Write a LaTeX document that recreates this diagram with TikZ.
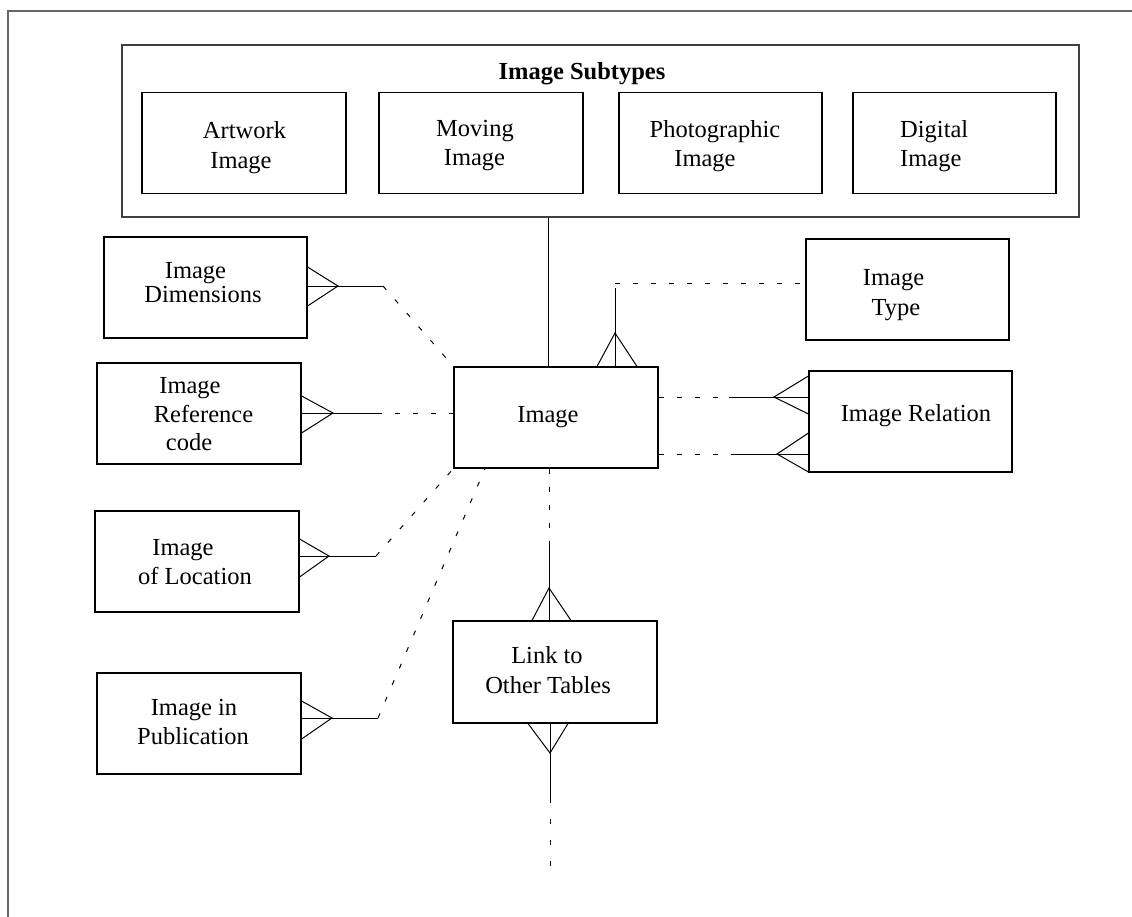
\documentclass[tikz,border=0pt]{standalone}
\usepackage{fontspec}
\setmainfont{Liberation Serif}
\begin{document}
\begin{tikzpicture}[x=1pt,y=-1pt,
  ent/.style={draw=black, line width=1.1pt, inner sep=0pt, minimum width=203pt, minimum height=101pt},
  txt/.style={inner sep=0pt, anchor=base, font=\fontsize{24.5}{29}\selectfont},
  ln/.style={line width=1pt},
  dsh/.style={line width=1pt, dash pattern=on 5pt off 13pt},
  outerframe/.style={draw=black!60, line width=1.3pt}]
\useasboundingbox (0,0) rectangle (1132,916);
\draw[outerframe] (8,930) -- (8,11) -- (1140,11);

% container and subtypes
\node[ent, draw=black!75, minimum width=957pt, minimum height=172pt] (sub) at (600.5,131) {};
\node[txt, font=\fontsize{24.5}{29}\selectfont\bfseries] (subt) at (582,79) {Image Subtypes};
\node[ent, minimum width=204pt] (art) at (244,143) {};
\node[ent, minimum width=204pt] (mov) at (481,143) {};
\node[ent] (pho) at (720.5,143) {};
\node[ent] (dig) at (954.5,143) {};
\node[txt] (art1) at (244.5,138) {Artwork};
\node[txt] (art2) at (241,168) {Image};
\node[txt] (mov1) at (475,136) {Moving};
\node[txt] (mov2) at (474.5,165) {Image};
\node[txt] (pho1) at (715,137) {Photographic};
\node[txt] (pho2) at (705,166) {Image};
\node[txt, anchor=base west] (dig1) at (900,137) {Digital};
\node[txt, anchor=base west] (dig2) at (900,166) {Image};

% entities
\node[ent] (dim) at (205.5,287.5) {};
\node[ent, minimum width=204pt] (ref) at (199,413.5) {};
\node[ent, minimum width=204pt] (loc) at (197,561.5) {};
\node[ent, minimum width=204pt] (pub) at (199,723.5) {};
\node[ent, minimum width=204pt] (img) at (556,417.5) {};
\node[ent] (typ) at (907.5,289.5) {};
\node[ent] (rel) at (910.5,421.5) {};
\node[ent, minimum width=204pt, minimum height=102pt] (lnk) at (555,672) {};

\node[txt] (dim1) at (195.5,278) {Image};
\node[txt] (dim2) at (203,302) {Dimensions};
\node[txt] (ref1) at (190,393) {Image};
\node[txt] (ref2) at (203.5,422) {Reference};
\node[txt] (ref3) at (189,450) {code};
\node[txt] (loc1) at (183,555) {Image};
\node[txt] (loc2) at (195,584) {of Location};
\node[txt] (pub1) at (194,715) {Image in};
\node[txt] (pub2) at (193,744) {Publication};
\node[txt] (img1) at (548,422) {Image};
\node[txt] (typ1) at (893.5,285) {Image};
\node[txt] (typ2) at (896,315) {Type};
\node[txt] (rel1) at (916,421) {Image Relation};
\node[txt] (lnk1) at (547,663) {Link to};
\node[txt] (lnk2) at (548,693) {Other Tables};

% subtypes to image
\draw[ln] (sub.south -| img1) -- (img.north -| img1);

% Image Dimensions
\coordinate (dA) at (338,286);
\coordinate (dE) at (383,286);
\draw[ln] (dim.east |- 0,267) -- (dA) -- (dim.east |- 0,306);
\draw[ln] (dim.east |- dA) -- (dE);
\draw[dsh] (dE) -- (img.north west);

% Image Reference code
\coordinate (rA) at (333,413);
\coordinate (rE) at (377,413);
\draw[ln] (ref.east |- 0,396) -- (rA) -- (ref.east |- 0,433);
\draw[ln] (ref.east |- rA) -- (rE);
\draw[dsh] (rE) -- (img.west |- rE);

% Image of Location
\coordinate (lA) at (329,556);
\coordinate (lE) at (376,556);
\draw[ln] (loc.east |- 0,539) -- (lA) -- (loc.east |- 0,577);
\draw[ln] (loc.east |- lA) -- (lE);
\draw[dsh] (lE) -- (img.south west);

% Image in Publication
\coordinate (pA) at (332,718);
\coordinate (pE) at (378,718);
\draw[ln] (pub.east |- 0,701) -- (pA) -- (pub.east |- 0,739);
\draw[ln] (pub.east |- pA) -- (pE);
\draw[dsh] (pE) -- (img.south -| 485,0);

% Image Type
\coordinate (tA) at (615,333);
\coordinate (tE) at (615,288);
\draw[ln] (img.north -| 597,0) -- (tA) -- (img.north -| 637,0);
\draw[ln] (img.north -| tA) -- (tE);
\draw[dsh] (615,283) -- (typ.west |- 0,283);

% Image Relation (two)
\coordinate (r1A) at (774,397);
\coordinate (r1E) at (729,397);
\draw[ln] (rel.west |- 0,376) -- (r1A) -- (rel.west |- 0,414);
\draw[ln] (rel.west |- r1A) -- (r1E);
\draw[dsh] (img.east |- r1A) -- (r1E);
\coordinate (r2A) at (777,454);
\coordinate (r2E) at (731,454);
\draw[ln] (rel.west |- 0,433) -- (r2A) -- (rel.west |- 0,472);
\draw[ln] (rel.west |- r2A) -- (r2E);
\draw[dsh] (img.east |- r2A) -- (r2E);

% Link to Other Tables
\coordinate (kA) at (549,588);
\coordinate (kE) at (549,543);
\draw[ln] (lnk.north -| 532,0) -- (kA) -- (lnk.north -| 571,0);
\draw[ln] (lnk.north -| kA) -- (kE);
\draw[dsh] (img.south -| kE) -- (kE);
\coordinate (bA) at (550,753);
\coordinate (bE) at (550,798);
\coordinate (bF) at (550,874);
\draw[ln] (lnk.south -| 528,0) -- (bA) -- (lnk.south -| 568,0);
\draw[ln] (lnk.south -| bA) -- (bE);
\draw[dsh, dash pattern=on 5pt off 16pt] (bE) -- (bF);
\end{tikzpicture}
\end{document}
